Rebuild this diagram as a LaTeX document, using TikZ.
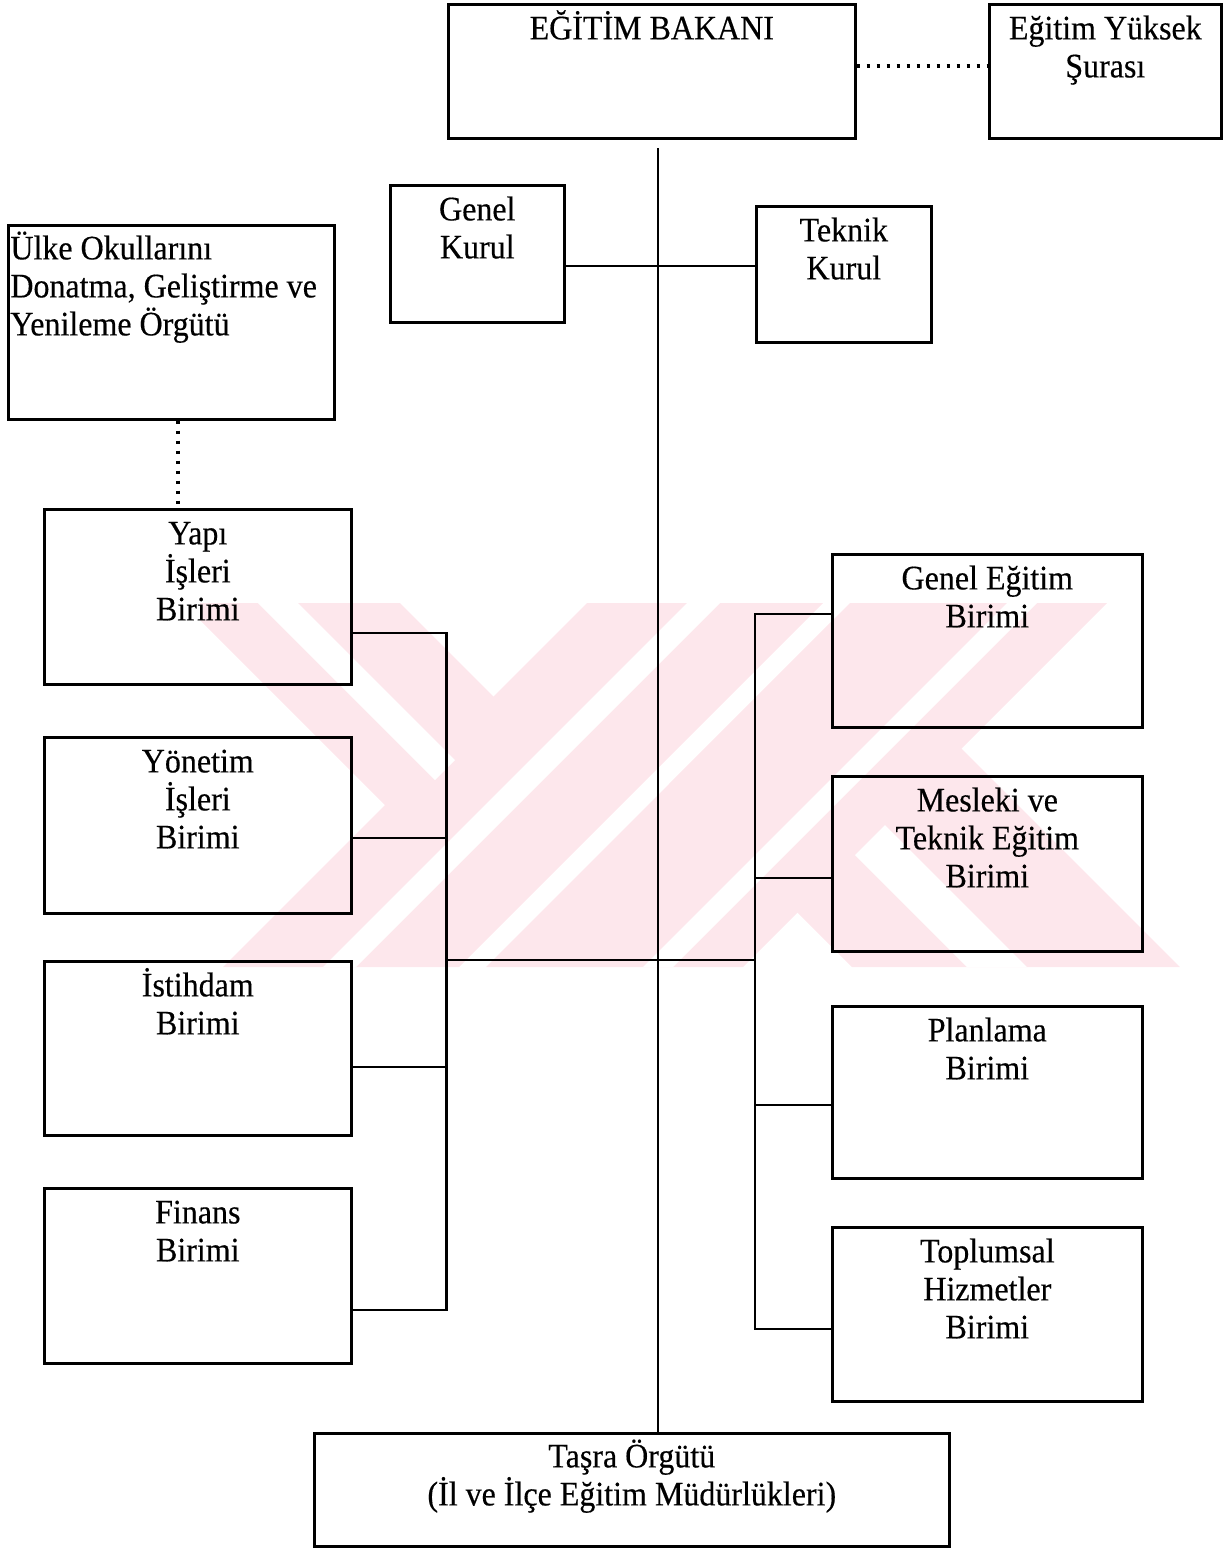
\documentclass[tikz,border=0pt]{standalone}
\usepackage{fontspec}
\setmainfont{Liberation Serif}[FakeStretch=0.93, FakeBold=0.35]
\usetikzlibrary{calc}
\definecolor{wm}{RGB}{253,231,236}
\newcommand\tstrut{\rule{0pt}{17pt}}
\begin{document}
\begin{tikzpicture}[x=0.5pt,y=-0.5pt,
  box/.style={draw, line width=1.3pt, rectangle, inner sep=0pt, anchor=north west},
  txt/.style={font=\fontsize{17.2}{19}\selectfont, align=center, inner sep=0pt, anchor=north},
  ln/.style={line width=1.3pt},
  dotln/.style={line width=1.7pt, dash pattern=on 1.6pt off 3.4pt}]
\useasboundingbox (0,0) rectangle (1224,1548);
% watermark
\begin{scope}
\clip (200,603) rectangle (1180,967);
\fill[wm] (183,603) -- (400,603) -- (548.5,751.5) -- (440,860) -- cycle;
\fill[wm] (587,603) -- (823,603) -- (459,967) -- (223,967) -- cycle;
\fill[wm] (850,603) -- (1107,603) -- (743,967) -- (486,967) -- cycle;
\fill[wm] (833,620) -- (1180,967) -- (852,967) -- (669,784) -- cycle;
\fill[white] (258,603) -- (298,603) -- (455,760) -- (435,780) -- cycle;
\fill[white] (687,603) -- (720,603) -- (356,967) -- (323,967) -- cycle;
\fill[white] (1007,603) -- (1037,603) -- (673,967) -- (643,967) -- cycle;
\fill[white] (855,855) -- (885,825) -- (1027,967) -- (967,967) -- cycle;
\end{scope}
% boxes
\node[box, minimum width=203.5pt, minimum height=67pt] (bakan) at (447,3) {};
\node[box, minimum width=116pt, minimum height=67pt] (eys) at (988,3) {};
\node[box, minimum width=87pt, minimum height=68.5pt] (gk) at (389,184) {};
\node[box, minimum width=87.5pt, minimum height=68pt] (tk) at (755,205) {};
\node[box, minimum width=163pt, minimum height=97pt] (ulke) at (7,224) {};
\node[box, minimum width=153.5pt, minimum height=87.5pt] (yapi) at (43,508) {};
\node[box, minimum width=153.5pt, minimum height=88pt] (yon) at (43,736) {};
\node[box, minimum width=153.5pt, minimum height=87pt] (ist) at (43,960) {};
\node[box, minimum width=153.5pt, minimum height=87.5pt] (fin) at (43,1187) {};
\node[box, minimum width=155pt, minimum height=86.5pt] (ge) at (831,553) {};
\node[box, minimum width=155pt, minimum height=87.5pt] (mte) at (831,775) {};
\node[box, minimum width=155pt, minimum height=86pt] (pl) at (831,1005) {};
\node[box, minimum width=155pt, minimum height=87pt] (th) at (831,1226) {};
\node[box, minimum width=317.5pt, minimum height=56.5pt] (tasra) at (313,1432) {};
% texts
\node[txt] (tbakan) at ($(bakan.north)+(0,2)$) {\tstrut EĞİTİM BAKANI};
\node[txt] (teys) at ($(eys.north)+(0,2)$) {\tstrut Eğitim Yüksek\\Şurası};
\node[txt] (tgk) at ($(gk.north)+(0,2)$) {\tstrut Genel\\Kurul};
\node[txt] (ttk) at ($(tk.north)+(0,2)$) {\tstrut Teknik\\Kurul};
\node[txt, align=left, anchor=north west] (tulke) at ($(ulke.north west)+(3,1)$) {\tstrut Ülke Okullarını\\Donatma, Geliştirme ve\\Yenileme Örgütü};
\node[txt] (tyapi) at ($(yapi.north)+(0,2)$) {\tstrut Yapı\\İşleri\\Birimi};
\node[txt] (tyon) at ($(yon.north)+(0,2)$) {\tstrut Yönetim\\İşleri\\Birimi};
\node[txt] (tist) at ($(ist.north)+(0,2)$) {\tstrut İstihdam\\Birimi};
\node[txt] (tfin) at ($(fin.north)+(0,2)$) {\tstrut Finans\\Birimi};
\node[txt] (tge) at ($(ge.north)+(0,2)$) {\tstrut Genel Eğitim\\Birimi};
\node[txt] (tmte) at ($(mte.north)+(0,2)$) {\tstrut Mesleki ve\\Teknik Eğitim\\Birimi};
\node[txt] (tpl) at ($(pl.north)+(0,2)$) {\tstrut Planlama\\Birimi};
\node[txt] (tth) at ($(th.north)+(0,2)$) {\tstrut Toplumsal\\Hizmetler\\Birimi};
\node[txt] (ttasra) at ($(tasra.north)+(0,1)$) {\tstrut Taşra Örgütü\\(İl ve İlçe Eğitim Müdürlükleri)};
% connectors
\draw[dotln] ($(bakan.north east)+(0,63)$) -- ($(eys.north west)+(0,63)$);
\coordinate (mtop) at (658,148);
\draw[ln] (mtop) -- (mtop |- tasra.north);
\draw[ln] ($(gk.north east)+(0,82)$) -- ($(tk.north west)+(0,61)$);
\draw[dotln] ($(ulke.south west)+(171,0)$) -- ($(yapi.north west)+(135,0)$);
\draw[ln] ($(yapi.north east)+(0,125)$) -| ($(fin.north east)+(94,123)$) -- ($(fin.north east)+(0,123)$);
\draw[ln] ($(yon.north east)+(0,102)$) -- +(94,0);
\draw[ln] ($(ist.north east)+(0,107)$) -- +(94,0);
\draw[ln] ($(ge.north west)+(0,61)$) -| ($(th.north west)+(-76,103)$) -- ($(th.north west)+(0,103)$);
\draw[ln] ($(mte.north west)+(0,103)$) -- +(-76,0);
\draw[ln] ($(pl.north west)+(0,100)$) -- +(-76,0);
\draw[ln] ($(yon.north east)+(94,224)$) -- ($(mte.north west)+(-76,185)$);
\end{tikzpicture}
\end{document}
